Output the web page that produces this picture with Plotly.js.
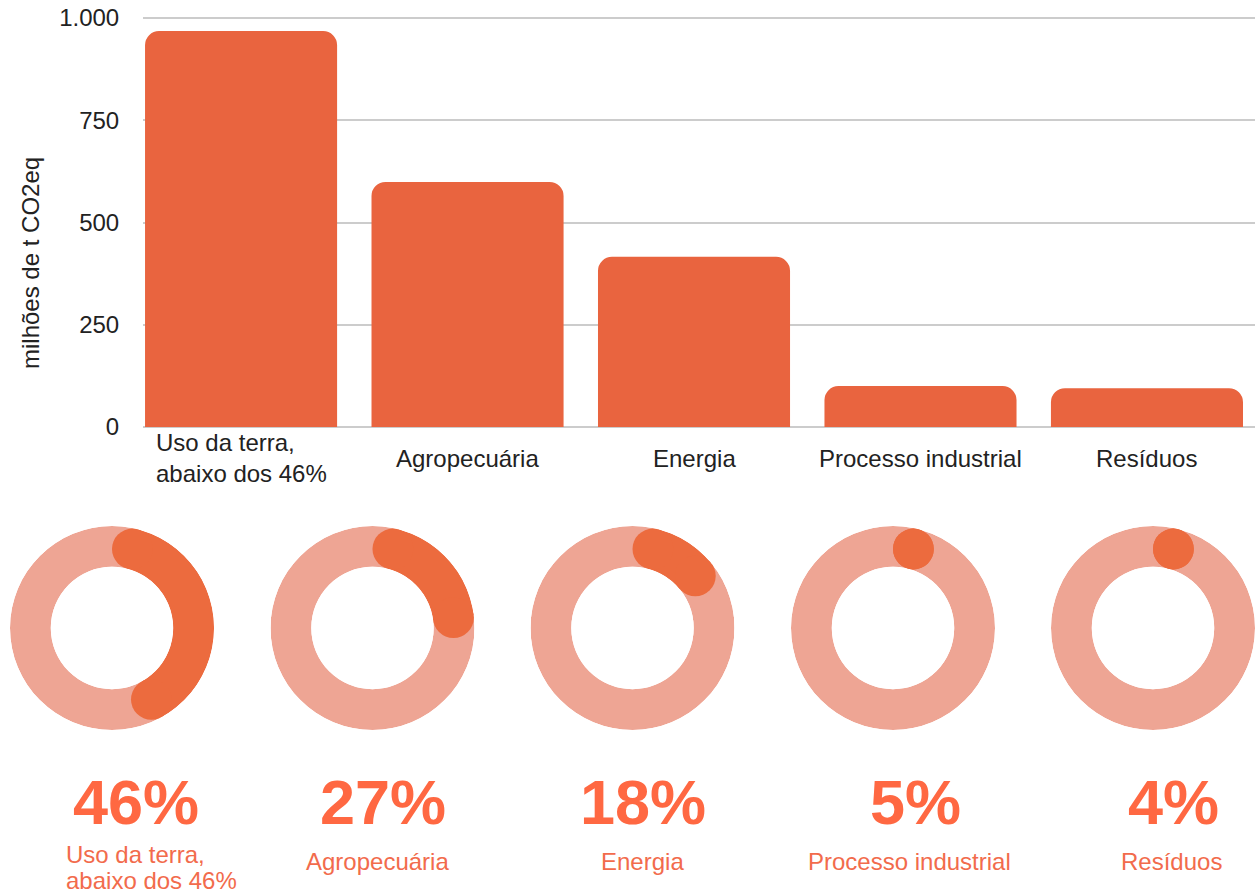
<!DOCTYPE html>
<html>
<head>
<meta charset="utf-8">
<script src="https://cdn.plot.ly/plotly-3.0.1.min.js"></script>
<style>html,body{margin:0;padding:0;background:#fff;}#chart{width:1255px;height:895px;}</style>
</head>
<body>
<div id="chart"></div>
<script>
// ---- data ----
const categories = ['Uso da terra, abaixo dos 46%', 'Agropecuária', 'Energia', 'Processo industrial', 'Resíduos'];
const axisLabels = ['Uso da terra,<br>abaixo dos 46%', 'Agropecuária', 'Energia', 'Processo industrial', 'Resíduos'];
const emissions = [968, 599, 416, 100, 95];          // milhões de t CO2eq
const shares = [46, 27, 18, 5, 4];                    // % of total
const yTickValues = [0, 250, 500, 750, 1000];
const yTitle = 'milhões de t CO2eq';

// ---- layout helpers (positions / styles) ----
const W = 1255, H = 895;
const px = p => p / W;
const py = p => 1 - p / H;
const FONT = 'Liberation Sans, Arial, sans-serif';
const barColor = '#E9643F';
const arcColor = '#EC6B3E';
const ringColor = '#EEA594';
const pctColor = '#FF6842';
const lblColor = '#F26B4C';

const donutCx = [112, 372.5, 632.5, 893, 1153];
const donutCy = 628, donutR = 102, hole = 0.6;
const pctX = [135.5, 382.5, 642.5, 915.5, 1173.5];
const bottomLblX = [64, 377.5, 643, 909.5, 1171];
const bottomLblAnchor = ['left', 'center', 'center', 'center', 'center'];
const bottomLineStep = 26;

const traces = [];
traces.push({
  type: 'bar', x: categories, y: emissions, width: 0.848,
  marker: {color: barColor, cornerradius: 14, line: {width: 0}},
  hoverinfo: 'skip', xaxis: 'x', yaxis: 'y'
});

const capAngle = Math.asin((1 - hole) / (1 + hole)) * 180 / Math.PI;
const thickness = donutR * (1 - hole);
const layout = {
  width: W, height: H, margin: {l: 0, r: 0, t: 0, b: 0},
  paper_bgcolor: '#fff', plot_bgcolor: 'rgba(0,0,0,0)',
  showlegend: false, hovermode: false, separators: ',.',
  font: {family: FONT, color: '#222', size: 24},
  xaxis: {domain: [px(143), 1], range: [-0.433, 4.477], type: 'category',
          showticklabels: false, showgrid: false, zeroline: false, showline: false, fixedrange: true},
  yaxis: {domain: [py(427), py(13.1)], range: [0, 1012], tickvals: yTickValues, tickformat: ',d',
          showgrid: true, gridcolor: '#CCCCCC', gridwidth: 2, zeroline: true, zerolinecolor: '#CCCCCC', zerolinewidth: 2,
          ticks: 'outside', ticklen: 18, tickcolor: 'rgba(0,0,0,0)', showline: false,
          tickfont: {family: FONT, size: 24, color: '#222'}, fixedrange: true},
  annotations: []
};

layout.annotations.push({
  text: yTitle, xref: 'paper', yref: 'paper', x: px(30), y: py(263), textangle: -90,
  showarrow: false, xanchor: 'center', yanchor: 'middle',
  font: {family: FONT, size: 24, color: '#222'}
});

categories.forEach((c, i) => {
  layout.annotations.push({
    text: axisLabels[i], xref: 'x', yref: 'paper', x: c, y: py(458),
    showarrow: false, xanchor: 'center', yanchor: 'middle', align: 'left',
    font: {family: FONT, size: 24, color: '#222'}
  });
});

shares.forEach((s, i) => {
  const name = i === 0 ? 'polar' : 'polar' + (i + 1);
  const cx = donutCx[i];
  layout[name] = {
    domain: {x: [px(cx - donutR), Math.min(1, px(cx + donutR))], y: [py(donutCy + donutR), py(donutCy - donutR)]},
    hole: hole, bgcolor: 'rgba(0,0,0,0)',
    radialaxis: {visible: false, range: [0, 1]},
    angularaxis: {visible: false, rotation: 90, direction: 'clockwise'}
  };
  traces.push({type: 'barpolar', subplot: name, r: [1], theta: [180], width: [360],
               marker: {color: ringColor, line: {width: 0}}, hoverinfo: 'skip'});
  const span = 360 * s / 100;
  const endAngle = span - capAngle;
  if (endAngle > capAngle) {
    traces.push({type: 'barpolar', subplot: name, r: [1], theta: [(capAngle + endAngle) / 2], width: [endAngle - capAngle],
                 marker: {color: arcColor, line: {width: 0}}, hoverinfo: 'skip'});
  }
  traces.push({type: 'scatterpolar', subplot: name, mode: 'markers', r: [0.5, 0.5],
               theta: [capAngle, Math.max(capAngle, endAngle)],
               marker: {color: arcColor, size: thickness, line: {width: 0}}, hoverinfo: 'skip', cliponaxis: false});

  layout.annotations.push({
    text: s + '%', xref: 'paper', yref: 'paper', x: px(pctX[i]), y: py(802),
    showarrow: false, xanchor: 'center', yanchor: 'middle',
    font: {family: FONT, size: 63, color: pctColor, weight: 'bold'}
  });
  const lines = axisLabels[i].split('<br>');
  const firstY = lines.length > 1 ? 854 : 861;
  lines.forEach((line, j) => {
    layout.annotations.push({
      text: line, xref: 'paper', yref: 'paper', x: px(bottomLblX[i]), y: py(firstY + j * bottomLineStep),
      showarrow: false, xanchor: bottomLblAnchor[i], yanchor: 'middle', align: 'left',
      font: {family: FONT, size: 24, color: lblColor}
    });
  });
});

Plotly.newPlot('chart', traces, layout, {staticPlot: true, displayModeBar: false});
</script>
</body>
</html>
